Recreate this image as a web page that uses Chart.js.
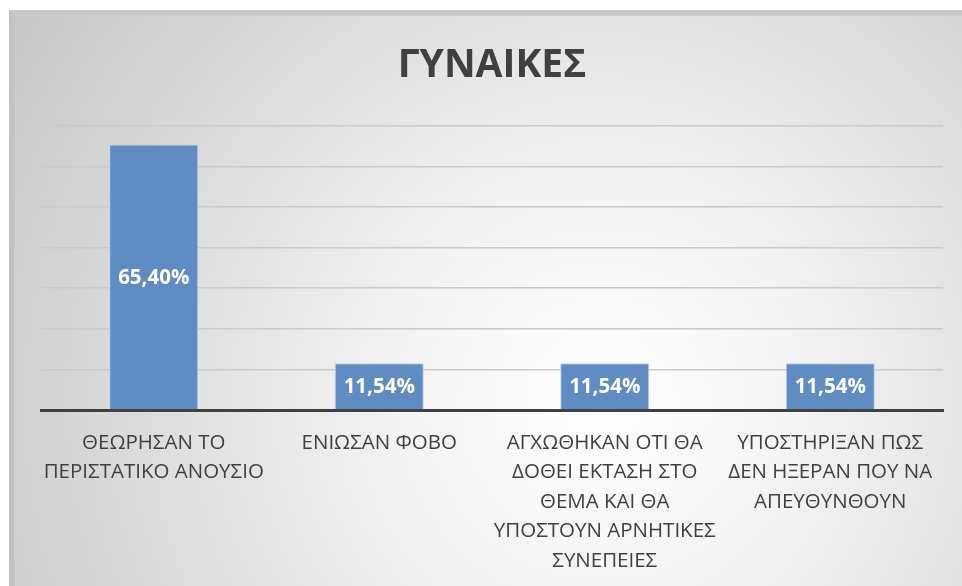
<!DOCTYPE html>
<html>
<head>
<meta charset="utf-8">
<script src="https://cdn.jsdelivr.net/npm/chart.js@4/dist/chart.umd.min.js"></script>
<style>
    html, body { margin: 0; padding: 0; background: #ffffff; }
    #frame {
        position: absolute;
        left: 9px;
        top: 10px;
        width: 948px;
        height: 570px;
        border-left: 5px solid #c2c2c2;
        border-top: 6px solid #c8c8c8;
        background: radial-gradient(circle farthest-corner at 62% 68%, #ffffff 0%, #f4f4f4 28%, #c6c6c6 100%);
    }
    #chart { display: block; }
</style>
</head>
<body>
<div id="frame">
    <canvas id="chart" width="948" height="570"></canvas>
</div>
<script>
const titleText = 'ΓΥΝΑΙΚΕΣ';

const categories = [
    ['ΘΕΩΡΗΣΑΝ ΤΟ', 'ΠΕΡΙΣΤΑΤΙΚΟ ΑΝΟΥΣΙΟ'],
    ['ΕΝΙΩΣΑΝ ΦΟΒΟ'],
    ['ΑΓΧΩΘΗΚΑΝ ΟΤΙ ΘΑ', 'ΔΟΘΕΙ ΕΚΤΑΣΗ ΣΤΟ', 'ΘΕΜΑ ΚΑΙ ΘΑ', 'ΥΠΟΣΤΟΥΝ ΑΡΝΗΤΙΚΕΣ', 'ΣΥΝΕΠΕΙΕΣ'],
    ['ΥΠΟΣΤΗΡΙΞΑΝ ΠΩΣ', 'ΔΕΝ ΗΞΕΡΑΝ ΠΟΥ ΝΑ', 'ΑΠΕΥΘΥΝΘΟΥΝ']
];

const percentValues = [65.40, 11.54, 11.54, 11.54];

const yMax = 70;
const yStep = 10;

const colorBar = '#608cc4';
const colorBarEdge = '#bcd0ec';
const colorText = '#404040';
const colorGrid = '#cacaca';

const fontFamily = '"Open Sans", "Noto Sans", "DejaVu Sans", sans-serif';

// white value labels drawn in the middle of each bar
const barLabels = {
    id: 'barLabels',
    afterDatasetsDraw(chart) {
        const ctx = chart.ctx;
        const meta = chart.getDatasetMeta(0);
        ctx.save();
        ctx.fillStyle = '#ffffff';
        ctx.font = 'bold 20.5px ' + fontFamily;
        ctx.textAlign = 'center';
        ctx.textBaseline = 'middle';
        meta.data.forEach((bar, i) => {
            const v = chart.data.datasets[0].data[i];
            const txt = v.toFixed(2).replace('.', ',') + '%';
            ctx.fillText(txt, bar.x, (bar.y + bar.base) / 2 + 1);
        });
        ctx.restore();
    }
};

const chart = new Chart(document.getElementById('chart').getContext('2d'), {
    type: 'bar',
    data: {
        labels: categories,
        datasets: [{
            data: percentValues,
            backgroundColor: colorBar,
            borderColor: colorBarEdge,
            borderWidth: 1,
            barPercentage: 0.395,
            categoryPercentage: 1
        }]
    },
    options: {
        responsive: false,
        animation: false,
        layout: {
            padding: { left: 27, right: 19, top: 0, bottom: 0 }
        },
        scales: {
            x: {
                grid: { display: false, drawTicks: false },
                border: { display: true, color: colorText, width: 3 },
                ticks: {
                    color: colorText,
                    autoSkip: false,
                    maxRotation: 0,
                    minRotation: 0,
                    padding: 18,
                    font: { family: fontFamily, size: 20.5, lineHeight: 1.44 }
                },
                // fixed label band so the baseline sits where it does in the picture
                afterFit: (scale) => { scale.height = 176; }
            },
            y: {
                min: 0,
                max: yMax,
                ticks: { display: false, stepSize: yStep },
                border: { display: false },
                grid: {
                    drawTicks: false,
                    color: (c) => c.tick && c.tick.value === 0 ? 'rgba(0,0,0,0)' : colorGrid,
                    lineWidth: 1.5
                }
            }
        },
        plugins: {
            legend: { display: false },
            tooltip: { enabled: false },
            title: {
                display: true,
                text: titleText,
                color: colorText,
                font: { family: fontFamily, size: 39, weight: 'bold', lineHeight: 1.2 },
                padding: { top: 26, bottom: 37 }
            }
        }
    },
    plugins: [barLabels]
});
</script>
</body>
</html>
